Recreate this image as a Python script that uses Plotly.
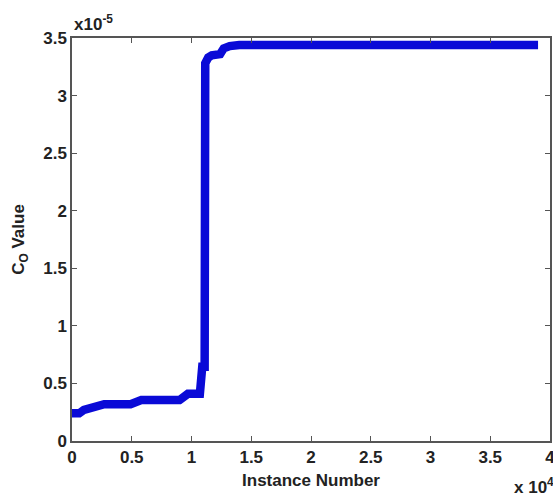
import plotly.graph_objects as go

# Instance number (x 10^4) and Co value (x 10^-5)
instance = [0, 0.06, 0.10, 0.15, 0.22, 0.27, 0.49, 0.53, 0.58, 0.90, 0.93, 0.97, 1.07, 1.08, 1.09, 1.11, 1.115, 1.14, 1.17, 1.24, 1.27, 1.32, 1.40, 3.90]
co_value = [0.24, 0.24, 0.27, 0.29, 0.30, 0.32, 0.32, 0.34, 0.355, 0.355, 0.39, 0.41, 0.41, 0.62, 0.645, 0.645, 3.28, 3.33, 3.35, 3.36, 3.41, 3.43, 3.44, 3.44]

x_ticks = [0, 0.5, 1, 1.5, 2, 2.5, 3, 3.5, 4]
x_tick_labels = ["0", "0.5", "1", "1.5", "2", "2.5", "3", "3.5", "4"]
y_ticks = [0, 0.5, 1, 1.5, 2, 2.5, 3, 3.5]
y_tick_labels = ["0", "0.5", "1", "1.5", "2", "2.5", "3", "3.5"]

FONT = "Liberation Sans, Arial, sans-serif"
TXT = "#222222"
fig = go.Figure()
fig.add_trace(go.Scatter(x=instance, y=co_value, mode="lines",
                         line=dict(color="rgb(10,10,215)", width=8.5),
                         showlegend=False))

axis_common = dict(showgrid=False, zeroline=False, showline=True, mirror="ticks",
                   linecolor="#555555", linewidth=1.5, ticks="inside", ticklen=5,
                   tickcolor="#555555", automargin=False, ticklabeloverflow="allow",
                   tickfont=dict(family=FONT, size=17, color=TXT, weight="bold"))
fig.update_xaxes(range=[0, 4], tickvals=x_ticks, ticktext=x_tick_labels,
                 title=dict(text="Instance Number", font=dict(family=FONT, size=17, color=TXT, weight="bold"), standoff=8),
                 **axis_common)
fig.update_yaxes(range=[0, 3.5], tickvals=y_ticks, ticktext=y_tick_labels,
                 title=dict(text="C<sub>O</sub> Value", font=dict(family=FONT, size=17, color=TXT, weight="bold"), standoff=14),
                 **axis_common)

fig.add_annotation(text="x10<sup>-5</sup>", xref="paper", yref="paper", x=0, y=1,
                   xanchor="left", yanchor="bottom", showarrow=False, yshift=2,
                   font=dict(family=FONT, size=17, color=TXT, weight="bold"))
fig.add_annotation(text="x 10<sup>4</sup>", xref="paper", yref="paper", x=1, y=0,
                   xanchor="right", yanchor="top", showarrow=False, yshift=-32, xshift=6,
                   font=dict(family=FONT, size=17, color=TXT, weight="bold"))

fig.update_layout(width=553, height=497, margin=dict(l=72, r=3, t=38, b=56),
                  plot_bgcolor="white", paper_bgcolor="white")
fig.write_html("out.html")
